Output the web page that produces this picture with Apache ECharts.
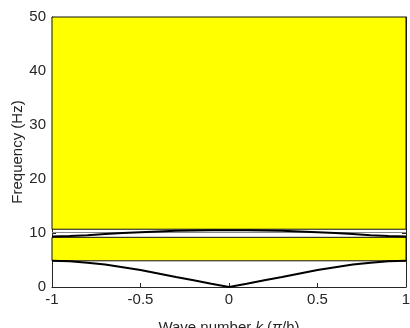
<!DOCTYPE html>
<html>
<head>
<meta charset="utf-8">
<script src="https://cdn.jsdelivr.net/npm/echarts@6/dist/echarts.min.js"></script>
<style>
  html, body { margin: 0; padding: 0; background: #fff; }
  #chart { width: 410px; height: 328px; }
</style>
</head>
<body>
<div id="chart"></div>
<script>
// wave number k (pi/h)
const kValues = [-1, -0.9, -0.8, -0.7, -0.6, -0.5, -0.4, -0.3, -0.2, -0.1, 0, 0.1, 0.2, 0.3, 0.4, 0.5, 0.6, 0.7, 0.8, 0.9, 1];
// acoustic branch (Hz)
const acousticFreq = [4.85, 4.75, 4.5, 4.15, 3.65, 3.15, 2.5, 1.85, 1.25, 0.6, 0, 0.6, 1.25, 1.85, 2.5, 3.15, 3.65, 4.15, 4.5, 4.75, 4.85];
// optical branch (Hz)
const opticalFreq = [9.35, 9.45, 9.6, 9.8, 10.0, 10.15, 10.3, 10.4, 10.45, 10.5, 10.5, 10.5, 10.45, 10.4, 10.3, 10.15, 10.0, 9.8, 9.6, 9.45, 9.35];
// yellow bands [from, to] in Hz
const bandGaps = [[4.85, 9.2], [10.7, 50]];
const thinLineFreq = 10.1;
const xTicks = [-1, -0.5, 0, 0.5, 1];
const yTicks = [0, 10, 20, 30, 40, 50];

const chart = echarts.init(document.getElementById("chart"), null, { renderer: "canvas" });
const font = "Liberation Sans, Arial, sans-serif";
const textColor = "#262626";
const axisColor = "#262626";
const fontSize = 15;

const toPairs = (ys) => kValues.map((k, i) => [k, ys[i]]);

const boxAxis = {
  axisLine: { show: true, onZero: false, lineStyle: { color: axisColor, width: 1 } },
  axisTick: { show: true, inside: true, length: 4, lineStyle: { color: axisColor } },
  splitLine: { show: false }
};

chart.setOption({
  animation: false,
  grid: { left: 52, right: 4, top: 17, bottom: 41, outerBoundsMode: "none", containLabel: false },
  xAxis: [
    {
      ...boxAxis,
      type: "value",
      min: xTicks[0],
      max: xTicks[xTicks.length - 1],
      interval: 0.5,
      axisLabel: { color: textColor, fontFamily: font, fontSize, margin: 5, formatter: (v) => String(v) },
      name: "{n|Wave number }{i|k}{n| (}{i|π}{n|/h)}",
      nameLocation: "middle",
      nameGap: 33,
      nameTextStyle: {
        rich: {
          n: { color: textColor, fontFamily: font, fontSize },
          i: { color: textColor, fontFamily: font, fontSize, fontStyle: "italic" }
        }
      }
    },
    { ...boxAxis, type: "value", position: "top", min: -1, max: 1, interval: 0.5, axisLabel: { show: false } }
  ],
  yAxis: [
    {
      ...boxAxis,
      type: "value",
      min: yTicks[0],
      max: yTicks[yTicks.length - 1],
      interval: 10,
      axisLabel: { color: textColor, fontFamily: font, fontSize, margin: 6 },
      name: "Frequency (Hz)",
      nameLocation: "middle",
      nameGap: 27,
      nameMoveOverlap: false,
      nameTextStyle: { color: textColor, fontFamily: font, fontSize }
    },
    { ...boxAxis, type: "value", position: "right", min: 0, max: 50, interval: 10, axisLabel: { show: false } }
  ],
  series: [
    {
      type: "line",
      data: [],
      silent: true,
      markArea: {
        silent: true,
        itemStyle: { color: "#ffff00", borderColor: "#111", borderWidth: 1 },
        data: bandGaps.map(([a, b]) => [{ yAxis: a, xAxis: -1 }, { yAxis: b, xAxis: 1 }])
      },
      markLine: {
        silent: true,
        symbol: "none",
        label: { show: false },
        lineStyle: { color: "#888", width: 1, type: "solid" },
        data: [{ yAxis: thinLineFreq }]
      }
    },
    {
      type: "line",
      data: toPairs(acousticFreq),
      showSymbol: false,
      symbol: "none",
      lineStyle: { color: "#000", width: 2 },
      z: 5
    },
    {
      type: "line",
      data: toPairs(opticalFreq),
      showSymbol: false,
      symbol: "none",
      lineStyle: { color: "#000", width: 2 },
      z: 5
    }
  ]
});
</script>
</body>
</html>
